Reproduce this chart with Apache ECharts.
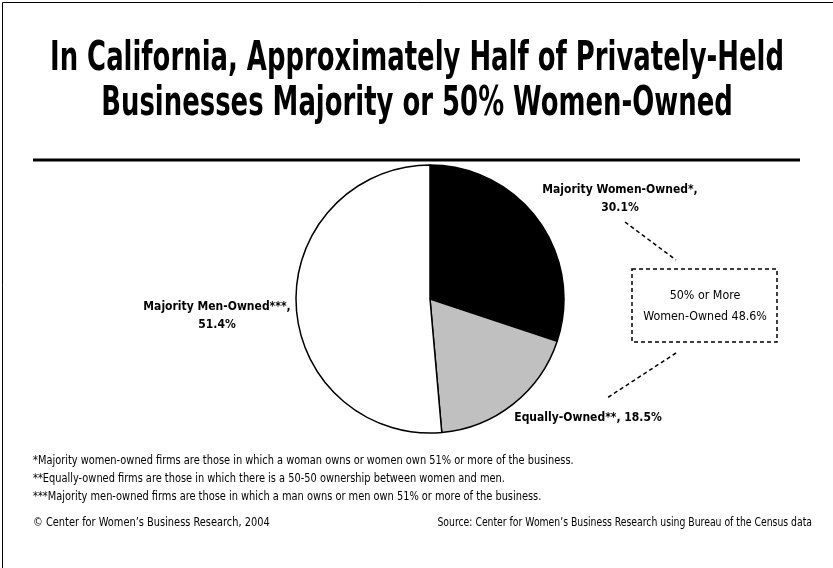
<!DOCTYPE html>
<html>
<head>
<meta charset="utf-8">
<script src="https://cdn.jsdelivr.net/npm/echarts@6/dist/echarts.min.js"></script>
<style>
html,body{margin:0;padding:0;background:#fff;}
#chart{width:833px;height:568px;}
</style>
</head>
<body>
<div id="chart"></div>
<script>
var titleLines = ['In California, Approximately Half of Privately-Held', 'Businesses Majority or 50% Women-Owned'];
var categories = ['Majority Women-Owned*', 'Equally-Owned**', 'Majority Men-Owned***'];
var shares = [30.1, 18.5, 51.4];
var sliceColors = ['#000000', '#c0c0c0', '#ffffff'];
var footnotes = [
  '*Majority women-owned firms are those in which a woman owns or women own 51% or more of the business.',
  '**Equally-owned firms are those in which there is a 50-50 ownership between women and men.',
  '***Majority men-owned firms are those in which a man owns or men own 51% or more of the business.'
];
var copyrightText = '\u00A9 Center for Women\u2019s Business Research, 2004';
var sourceText = 'Source: Center for Women\u2019s Business Research using Bureau of the Census data';

var FONT = '"DejaVu Sans Condensed", "Liberation Sans Narrow", Arial, sans-serif';
var combined = (shares[0] + shares[1]).toFixed(1);

var chart = echarts.init(document.getElementById('chart'), null, {renderer: 'canvas'});

var labelPos = [
  {x: 620, y: 199, text: categories[0] + ',\n' + shares[0].toFixed(1) + '%'},
  {x: 588, y: 418, text: categories[1] + ', ' + shares[1].toFixed(1) + '%'},
  {x: 217, y: 316, text: categories[2] + ',\n' + shares[2].toFixed(1) + '%'}
];

function titleText(t, y) {
  return {type: 'text', x: 417, y: y, scaleX: 0.72, scaleY: 1.03, originX: 0, originY: 0,
    style: {text: t, font: 'bold 40px ' + FONT, fill: '#000', align: 'center', verticalAlign: 'middle'}};
}
function smallText(t, x, y, align, sx) {
  return {type: 'text', x: x, y: y, scaleX: sx, originX: 0, originY: 0,
    style: {text: t, font: '12px ' + FONT, fill: '#000', align: align, verticalAlign: 'middle'}};
}

var graphics = [
  {type: 'polyline', shape: {points: [[2.5, 568], [2.5, 2.5], [833, 2.5]]}, style: {stroke: '#000', lineWidth: 1, fill: null}, silent: true},
  {type: 'line', shape: {x1: 33, y1: 160, x2: 800, y2: 160}, style: {stroke: '#000', lineWidth: 3}, silent: true},
  titleText(titleLines[0], 59),
  titleText(titleLines[1], 104),
  {type: 'line', shape: {x1: 625, y1: 222, x2: 676, y2: 260}, style: {stroke: '#000', lineWidth: 1.5, lineDash: [4, 3]}},
  {type: 'line', shape: {x1: 676, y1: 353, x2: 607, y2: 398}, style: {stroke: '#000', lineWidth: 1.5, lineDash: [4, 3]}},
  {type: 'rect', shape: {x: 632, y: 269, width: 145, height: 73}, style: {stroke: '#000', lineWidth: 1.5, lineDash: [4, 3], fill: null}},
  {type: 'text', x: 705, y: 306, scaleX: 0.95, originX: 0, originY: 0, style: {text: '50% or More\nWomen-Owned ' + combined + '%', font: '13px ' + FONT, lineHeight: 21, fill: '#000', align: 'center', verticalAlign: 'middle'}}
];
footnotes.forEach(function (t, i) {
  graphics.push(smallText(t, 33, 461 + i * 18, 'left', 0.91));
});
graphics.push(smallText(copyrightText, 33, 523, 'left', 0.91));
graphics.push(smallText(sourceText, 812, 523, 'right', 0.86));

chart.setOption({
  backgroundColor: '#fff',
  animation: false,
  graphic: graphics,
  series: [{
    type: 'pie',
    center: [430, 299],
    radius: 134,
    startAngle: 90,
    clockwise: true,
    silent: true,
    data: categories.map(function (c, i) {
      return {name: c, value: shares[i], itemStyle: {color: sliceColors[i]}};
    }),
    itemStyle: {borderColor: '#000', borderWidth: 1.5},
    label: {
      show: true,
      position: 'outside',
      color: '#000',
      fontFamily: FONT,
      fontWeight: 'bold',
      fontSize: 12,
      lineHeight: 18,
      align: 'center',
      formatter: function (p) { return labelPos[p.dataIndex].text; }
    },
    labelLine: {show: false},
    labelLayout: function (params) {
      var lp = labelPos[params.dataIndex];
      return {x: lp.x, y: lp.y, align: 'center', verticalAlign: 'middle'};
    }
  }]
});
</script>
</body>
</html>
